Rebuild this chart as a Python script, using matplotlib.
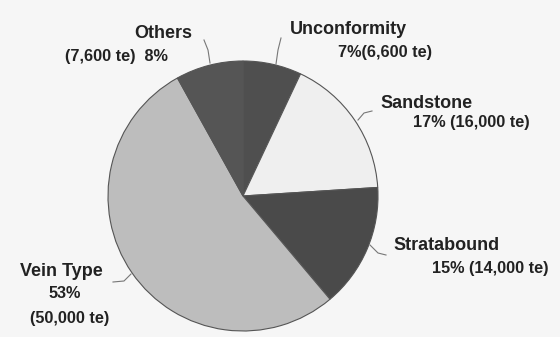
import matplotlib
matplotlib.use("Agg")
import matplotlib.pyplot as plt

categories = ["Unconformity", "Sandstone", "Stratabound", "Vein Type", "Others"]
tonnes = [6600, 16000, 14000, 50000, 7600]
percents = ["7%", "17%", "15%", "53%", "8%"]
tonne_labels = ["(6,600 te)", "(16,000 te)", "(14,000 te)", "(50,000 te)", "(7,600 te)"]
colors = ["#4f4f4f", "#efefef", "#4a4a4a", "#bdbdbd", "#555555"]

plt.rcParams['font.family'] = ['Liberation Sans', 'DejaVu Sans']

fig = plt.figure(figsize=(5.6, 3.37), dpi=100)
fig.patch.set_facecolor("#f6f6f6")
ax = fig.add_axes([0, 0, 1, 1])
ax.set_facecolor("#f6f6f6")

# pie drawn in a flipped-y axis: counterclock=True reads clockwise on screen
ax.pie(tonnes, colors=colors, startangle=-90, counterclock=True,
       center=(243, 196), radius=135, frame=True,
       wedgeprops=dict(edgecolor="#555555", linewidth=0.8))
ax.set_xlim(0, 560)
ax.set_ylim(337, 0)
ax.set_aspect("equal")
ax.axis("off")

name_kw = dict(fontsize=13, fontweight="bold", color="#222222")
val_kw = dict(fontsize=11.7, fontweight="bold", color="#222222")
lc = dict(color="#777777", lw=0.8)

# Others
ax.text(163, 34, categories[4], ha="center", va="center", **name_kw)
ax.text(65, 56, tonne_labels[4] + "  " + percents[4], ha="left", va="center", **val_kw)
ax.plot([204, 208, 210], [40, 50, 63], **lc)
# Unconformity
ax.text(290, 30, categories[0], ha="left", va="center", **name_kw)
ax.text(338, 53, percents[0] + tonne_labels[0], ha="left", va="center", **val_kw)
ax.plot([281, 278, 276], [38, 50, 64], **lc)
# Sandstone
ax.text(380, 103, categories[1], ha="left", va="center", **name_kw)
ax.text(413, 122, percents[1] + " " + tonne_labels[1], ha="left", va="center", **val_kw)
ax.plot([372, 364, 358], [111, 113, 120], **lc)
# Stratabound
ax.text(393, 245, categories[2], ha="left", va="center", **name_kw)
ax.text(432, 268, percents[2] + " " + tonne_labels[2], ha="left", va="center", **val_kw)
ax.plot([386, 378, 370], [255, 253, 245], **lc)
# Vein Type
ax.text(20, 271, categories[3], ha="left", va="center", **name_kw)
ax.text(65, 294, percents[3], ha="center", va="center", **val_kw)
ax.text(30, 318, tonne_labels[3], ha="left", va="center", **val_kw)
ax.plot([113, 124, 131], [282, 281, 274], **lc)

fig.savefig("out.png", dpi=100, facecolor=fig.get_facecolor())
